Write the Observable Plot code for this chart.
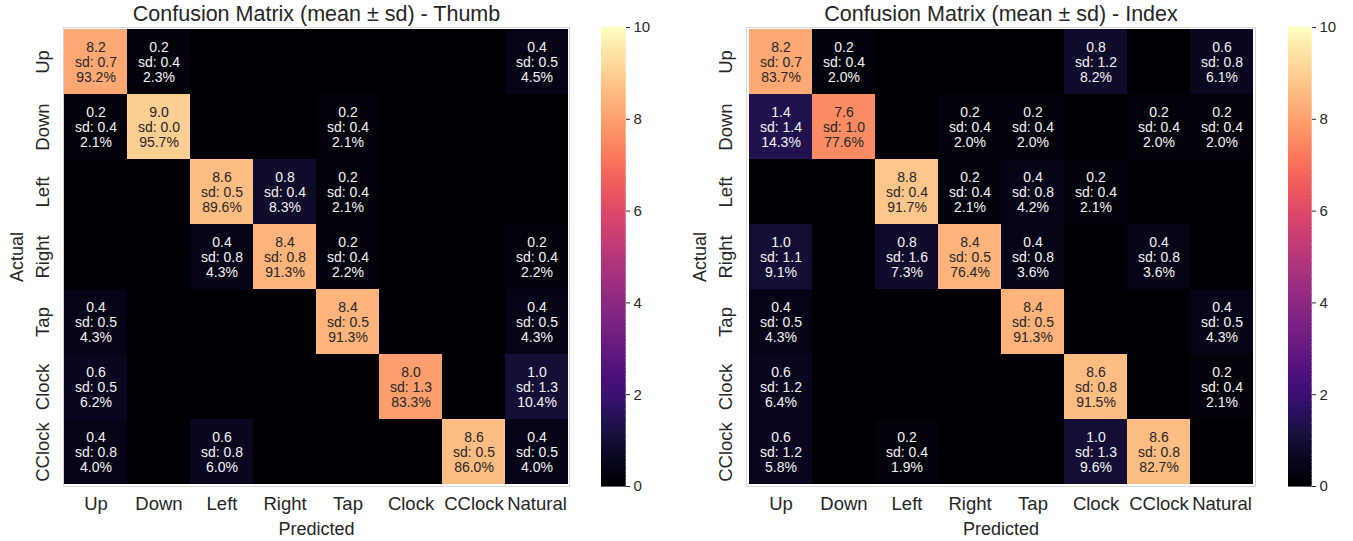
<!DOCTYPE html>
<html>
<head>
<meta charset="utf-8">
<script src="https://cdn.jsdelivr.net/npm/d3@7"></script>
<script src="https://cdn.jsdelivr.net/npm/@observablehq/plot@0.6"></script>
<style>
  html, body { margin: 0; padding: 0; background: #fff; }
  #wrap { position: relative; width: 1353px; height: 541px; overflow: hidden; font-family: "Liberation Sans", Arial, sans-serif; }
  #wrap > * { position: absolute; top: 0; }
</style>
</head>
<body>
<div id="wrap"></div>
<script>
// ---- data ----
const predicted = ["Up", "Down", "Left", "Right", "Tap", "Clock", "CClock", "Natural"];
const actual = ["Up", "Down", "Left", "Right", "Tap", "Clock", "CClock"];
const colorTicks = [0, 2, 4, 6, 8, 10];

const thumbMean = [
  [8.2, 0.2, 0, 0, 0, 0, 0, 0.4],
  [0.2, 9.0, 0, 0, 0.2, 0, 0, 0],
  [0, 0, 8.6, 0.8, 0.2, 0, 0, 0],
  [0, 0, 0.4, 8.4, 0.2, 0, 0, 0.2],
  [0.4, 0, 0, 0, 8.4, 0, 0, 0.4],
  [0.6, 0, 0, 0, 0, 8.0, 0, 1.0],
  [0.4, 0, 0.6, 0, 0, 0, 8.6, 0.4]
];
const thumbSd = [
  [0.7, 0.4, 0, 0, 0, 0, 0, 0.5],
  [0.4, 0.0, 0, 0, 0.4, 0, 0, 0],
  [0, 0, 0.5, 0.4, 0.4, 0, 0, 0],
  [0, 0, 0.8, 0.8, 0.4, 0, 0, 0.4],
  [0.5, 0, 0, 0, 0.5, 0, 0, 0.5],
  [0.5, 0, 0, 0, 0, 1.3, 0, 1.3],
  [0.8, 0, 0.8, 0, 0, 0, 0.5, 0.5]
];
const thumbPct = [
  [93.2, 2.3, 0, 0, 0, 0, 0, 4.5],
  [2.1, 95.7, 0, 0, 2.1, 0, 0, 0],
  [0, 0, 89.6, 8.3, 2.1, 0, 0, 0],
  [0, 0, 4.3, 91.3, 2.2, 0, 0, 2.2],
  [4.3, 0, 0, 0, 91.3, 0, 0, 4.3],
  [6.2, 0, 0, 0, 0, 83.3, 0, 10.4],
  [4.0, 0, 6.0, 0, 0, 0, 86.0, 4.0]
];

const indexMean = [
  [8.2, 0.2, 0, 0, 0, 0.8, 0, 0.6],
  [1.4, 7.6, 0, 0.2, 0.2, 0, 0.2, 0.2],
  [0, 0, 8.8, 0.2, 0.4, 0.2, 0, 0],
  [1.0, 0, 0.8, 8.4, 0.4, 0, 0.4, 0],
  [0.4, 0, 0, 0, 8.4, 0, 0, 0.4],
  [0.6, 0, 0, 0, 0, 8.6, 0, 0.2],
  [0.6, 0, 0.2, 0, 0, 1.0, 8.6, 0]
];
const indexSd = [
  [0.7, 0.4, 0, 0, 0, 1.2, 0, 0.8],
  [1.4, 1.0, 0, 0.4, 0.4, 0, 0.4, 0.4],
  [0, 0, 0.4, 0.4, 0.8, 0.4, 0, 0],
  [1.1, 0, 1.6, 0.5, 0.8, 0, 0.8, 0],
  [0.5, 0, 0, 0, 0.5, 0, 0, 0.5],
  [1.2, 0, 0, 0, 0, 0.8, 0, 0.4],
  [1.2, 0, 0.4, 0, 0, 1.3, 0.8, 0]
];
const indexPct = [
  [83.7, 2.0, 0, 0, 0, 8.2, 0, 6.1],
  [14.3, 77.6, 0, 2.0, 2.0, 0, 2.0, 2.0],
  [0, 0, 91.7, 2.1, 4.2, 2.1, 0, 0],
  [9.1, 0, 7.3, 76.4, 3.6, 0, 3.6, 0],
  [4.3, 0, 0, 0, 91.3, 0, 0, 4.3],
  [6.4, 0, 0, 0, 0, 91.5, 0, 2.1],
  [5.8, 0, 1.9, 0, 0, 9.6, 82.7, 0]
];

// ---- drawing ----
const FONT = '"Liberation Sans", Arial, sans-serif';
const INK = "#262626";
const colorOpts = {type: "linear", scheme: "magma", domain: [0, 10]};
const colorScale = Plot.scale({color: colorOpts});

function luminance(c) {
  const rgb = d3.rgb(c);
  const lin = v => { v /= 255; return v <= 0.03928 ? v / 12.92 : Math.pow((v + 0.055) / 1.055, 2.4); };
  return 0.2126 * lin(rgb.r) + 0.7152 * lin(rgb.g) + 0.0722 * lin(rgb.b);
}

function heatmap(title, mean, sd, pct, box) {
  const cells = [];
  actual.forEach((a, i) => predicted.forEach((p, j) => {
    cells.push({actual: a, predicted: p, mean: mean[i][j], sd: sd[i][j], pct: pct[i][j]});
  }));
  const labelOf = d => `${d.mean.toFixed(1)}\nsd: ${d.sd.toFixed(1)}\n${d.pct.toFixed(1)}%`;
  const isLight = d => luminance(colorScale.apply(d.mean)) > 0.37;
  return Plot.plot({
    width: box.width,
    height: 541,
    marginLeft: box.ml,
    marginRight: box.mr,
    marginTop: 27,
    marginBottom: 55,
    style: {fontFamily: FONT, background: "transparent", overflow: "visible"},
    x: {domain: predicted, padding: 0, axis: null},
    y: {domain: actual, padding: 0, axis: null},
    color: colorOpts,
    marks: [
      Plot.cell(cells, {x: "predicted", y: "actual", fill: "mean"}),
      Plot.frame({stroke: "#d6d6d6", strokeWidth: 1}),
      Plot.text(cells, {filter: d => d.mean > 0 && !isLight(d), x: "predicted", y: "actual", text: labelOf, fill: "#f4f4f4", fontSize: 14, lineHeight: 1.1}),
      Plot.text(cells, {filter: d => d.mean > 0 && isLight(d), x: "predicted", y: "actual", text: labelOf, fill: INK, fontSize: 14, lineHeight: 1.1}),
      Plot.text(predicted, {x: d => d, frameAnchor: "bottom", dy: 18, lineAnchor: "middle", fontSize: 18.5, fill: INK}),
      Plot.text(actual, {y: d => d, frameAnchor: "left", dx: -20, rotate: -90, textAnchor: "middle", lineAnchor: "middle", fontSize: 18.5, fill: INK}),
      Plot.text(["Predicted"], {frameAnchor: "bottom", dy: 43, lineAnchor: "middle", fontSize: 18, fill: INK}),
      Plot.text(["Actual"], {frameAnchor: "left", dx: box.actualDx, rotate: -90, textAnchor: "middle", lineAnchor: "middle", fontSize: 18, fill: INK}),
      Plot.text([title], {frameAnchor: "top", dy: -13, lineAnchor: "middle", fontSize: 21.5, fill: INK})
    ]
  });
}

function colorbar(barWidth) {
  const steps = d3.range(0, 10, 0.05);
  return Plot.plot({
    width: barWidth + 50,
    height: 541,
    marginLeft: 0,
    marginRight: 50,
    marginTop: 27,
    marginBottom: 55,
    style: {fontFamily: FONT, background: "transparent", overflow: "visible"},
    y: {domain: [0, 10], axis: null},
    color: colorOpts,
    marks: [
      Plot.rect(steps, {y1: d => d, y2: d => Math.min(10, d + 0.05), fill: d => d + 0.025, stroke: d => d + 0.025, strokeWidth: 0.6, shapeRendering: "crispEdges"}),
      Plot.axisY(colorTicks, {anchor: "right", tickSize: 4, tickPadding: 4, fontSize: 15, color: INK, label: null})
    ]
  });
}

const wrap = document.getElementById("wrap");
function place(node, left) { node.style.left = left + "px"; wrap.appendChild(node); }

place(heatmap("Confusion Matrix (mean ± sd) - Thumb", thumbMean, thumbSd, thumbPct,
  {width: 601, ml: 63, mr: 32, actualDx: -46}), 0);
place(colorbar(24), 601);
place(heatmap("Confusion Matrix (mean ± sd) - Index", indexMean, indexSd, indexPct,
  {width: 608, ml: 66, mr: 33, actualDx: -46}), 680);
place(colorbar(23), 1288);
</script>
</body>
</html>
